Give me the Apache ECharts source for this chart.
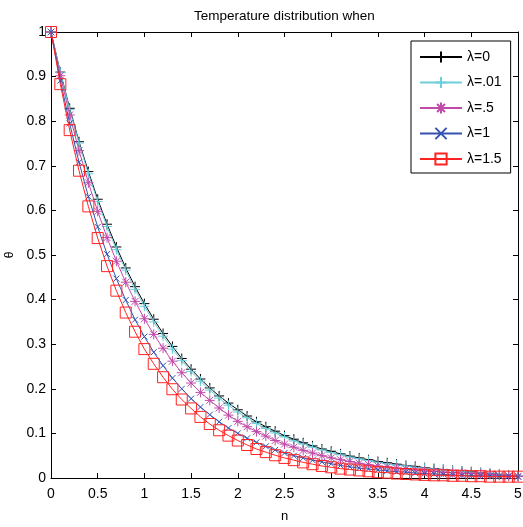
<!DOCTYPE html>
<html>
<head>
<meta charset="utf-8">
<script src="https://cdn.jsdelivr.net/npm/echarts@6/dist/echarts.min.js"></script>
<style>
html,body{margin:0;padding:0;background:#fff;}
#chart{width:523px;height:527px;}
</style>
</head>
<body>
<div id="chart"></div>
<script>
const nValues = [0,0.1,0.2,0.3,0.4,0.5,0.6,0.7,0.8,0.9,1,1.1,1.2,1.3,1.4,1.5,1.6,1.7,1.8,1.9,2,2.1,2.2,2.3,2.4,2.5,2.6,2.7,2.8,2.9,3,3.1,3.2,3.3,3.4,3.5,3.6,3.7,3.8,3.9,4,4.1,4.2,4.3,4.4,4.5,4.6,4.7,4.8,4.9,5];
const seriesNames = ['λ=0','λ=.01','λ=.5','λ=1','λ=1.5'];
const theta0 = [1,0.910,0.829,0.754,0.687,0.625,0.569,0.518,0.471,0.429,0.391,0.356,0.324,0.295,0.268,0.244,0.222,0.202,0.184,0.168,0.153,0.139,0.126,0.115,0.105,0.095,0.087,0.079,0.072,0.065,0.060,0.054,0.049,0.045,0.041,0.037,0.034,0.031,0.028,0.026,0.023,0.021,0.019,0.017,0.015,0.014,0.012,0.010,0.008,0.006,0.004];
const theta001 = [1,0.909,0.826,0.751,0.682,0.620,0.564,0.512,0.466,0.423,0.385,0.350,0.318,0.289,0.263,0.239,0.217,0.197,0.179,0.163,0.148,0.135,0.122,0.111,0.101,0.092,0.083,0.076,0.069,0.063,0.057,0.052,0.047,0.043,0.039,0.035,0.032,0.029,0.027,0.024,0.022,0.020,0.018,0.016,0.015,0.013,0.011,0.010,0.008,0.006,0.004];
const theta05 = [1,0.902,0.814,0.734,0.662,0.598,0.539,0.486,0.439,0.396,0.357,0.322,0.291,0.262,0.236,0.213,0.192,0.174,0.157,0.141,0.127,0.115,0.104,0.094,0.084,0.076,0.069,0.062,0.056,0.050,0.045,0.041,0.037,0.033,0.030,0.027,0.025,0.022,0.020,0.018,0.016,0.015,0.013,0.012,0.011,0.010,0.009,0.008,0.006,0.005,0.004];
const theta1 = [1,0.891,0.795,0.708,0.631,0.563,0.502,0.447,0.399,0.355,0.317,0.282,0.252,0.224,0.200,0.178,0.159,0.142,0.126,0.112,0.100,0.089,0.080,0.071,0.063,0.056,0.050,0.045,0.040,0.036,0.032,0.028,0.025,0.022,0.020,0.018,0.016,0.014,0.013,0.011,0.010,0.009,0.008,0.007,0.006,0.006,0.005,0.005,0.004,0.004,0.003];
const theta15 = [1,0.883,0.780,0.689,0.609,0.538,0.475,0.420,0.371,0.328,0.289,0.256,0.226,0.199,0.176,0.156,0.137,0.121,0.107,0.095,0.084,0.074,0.065,0.058,0.051,0.045,0.040,0.035,0.031,0.027,0.024,0.021,0.019,0.017,0.015,0.013,0.012,0.010,0.009,0.008,0.007,0.006,0.006,0.005,0.005,0.004,0.004,0.003,0.003,0.003,0.003];

const FONT = "'Liberation Sans',Arial,sans-serif";
const colors = ['#000000','#6ccfdc','#c04aa8','#3452b0','#ff2222'];
const symbols = [
  'path://M0,5L10,5M5,0L5,10',
  'path://M0,5L10,5M5,0L5,10',
  'path://M0,5L10,5M5,0L5,10M1.5,1.5L8.5,8.5M1.5,8.5L8.5,1.5',
  'path://M0,0L10,10M0,10L10,0',
  'path://M0,0L10,0L10,10L0,10Z'
];
const sizes = [10,10,10,6,11];
const values = [theta0, theta001, theta05, theta1, theta15];

const chart = echarts.init(document.getElementById('chart'), null, {renderer:'canvas'});
const tickStyle = {show:true, inside:true, length:5, lineStyle:{color:'#000', width:1}};
const lineStyleAxis = {show:true, onZero:false, lineStyle:{color:'#000', width:1}};

chart.setOption({
  animation:false,
  backgroundColor:'#fff',
  title:{
    text:'Temperature distribution when',
    left:189, top:4,
    textStyle:{fontFamily:FONT, fontSize:13.5, fontWeight:'normal', color:'#000'}
  },
  grid:{left:51, right:5, top:32, bottom:49, containLabel:false, outerBoundsMode:'none'},
  legend:{
    orient:'vertical',
    left:411, top:41,
    padding:[9,9,7,8],
    itemWidth:42, itemHeight:14, itemGap:11.5,
    backgroundColor:'#fff',
    borderColor:'#000', borderWidth:1, borderRadius:0,
    textStyle:{fontFamily:FONT, fontSize:14, color:'#000', lineHeight:14},
    data:seriesNames
  },
  xAxis:[{
    type:'value', min:0, max:5, interval:0.5,
    axisLine:lineStyleAxis, axisTick:tickStyle, splitLine:{show:false},
    axisLabel:{fontFamily:FONT, fontSize:14, color:'#000', margin:9},
    name:'n', nameLocation:'middle', nameGap:32,
    nameTextStyle:{fontFamily:FONT, fontSize:13, color:'#000'}
  },{
    type:'value', min:0, max:5, interval:0.5, position:'top',
    axisLine:lineStyleAxis, axisTick:tickStyle, splitLine:{show:false},
    axisLabel:{show:false}
  }],
  yAxis:[{
    type:'value', min:0, max:1, interval:0.1,
    axisLine:lineStyleAxis, axisTick:tickStyle, splitLine:{show:false},
    axisLabel:{fontFamily:FONT, fontSize:14, color:'#000', margin:5},
    name:'θ', nameLocation:'middle', nameGap:28, nameRotate:90,
    nameTextStyle:{fontFamily:FONT, fontSize:12, color:'#000'}
  },{
    type:'value', min:0, max:1, interval:0.1, position:'right',
    axisLine:lineStyleAxis, axisTick:tickStyle, splitLine:{show:false},
    axisLabel:{show:false}
  }],
  series: seriesNames.map((name,i)=>({
    name:name,
    type:'line',
    xAxisIndex:0, yAxisIndex:0,
    data:nValues.map((n,j)=>[n, values[i][j]]),
    symbol:symbols[i],
    symbolSize:sizes[i],
    showSymbol:true,
    showAllSymbol:true,
    lineStyle:{color:colors[i], width:1},
    itemStyle:{color:'rgba(0,0,0,0)', borderColor:colors[i], borderWidth:1},
    emphasis:{disabled:true},
    z:2+i
  }))
});
</script>
</body>
</html>
